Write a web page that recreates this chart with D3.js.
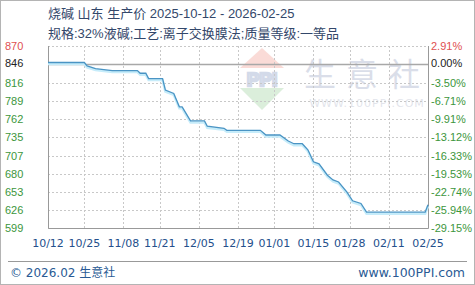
<!DOCTYPE html>
<html>
<head>
<meta charset="utf-8">
<script src="https://cdn.jsdelivr.net/npm/d3@7"></script>
<style>
  body { margin: 0; background: #fff; }
  svg { display: block; }
  text { font-family: "DejaVu Sans", "Noto Sans CJK SC", sans-serif; }
</style>
</head>
<body>
<div id="chart"></div>
<script>
// chart data
let titleText = "烧碱 山东 生产价 2025-10-12 - 2026-02-25";
let specText = "规格:32%液碱;工艺:离子交换膜法;质量等级:一等品";
let baseValue = 846;
let leftLabels = [599, 626, 653, 680, 707, 735, 762, 789, 816, 846, 870];
let rightLabels = ["-29.15%", "-25.94%", "-22.74%", "-19.53%", "-16.33%", "-13.12%", "-9.91%", "-6.71%", "-3.50%", "0.00%", "2.91%"];
let xTickDates = ["2025-10-12", "2025-10-25", "2025-11-08", "2025-11-21", "2025-12-05", "2025-12-19",
                  "2026-01-01", "2026-01-15", "2026-01-28", "2026-02-11", "2026-02-25"];
let priceDates = ["2025-10-12", "2025-10-25", "2025-10-26", "2025-10-29", "2025-11-04", "2025-11-13",
                  "2025-11-14", "2025-11-16", "2025-11-17", "2025-11-22", "2025-11-23", "2025-11-26",
                  "2025-11-28", "2025-11-29", "2025-12-02", "2025-12-07", "2025-12-08", "2025-12-14",
                  "2025-12-15", "2025-12-27", "2025-12-29", "2026-01-03", "2026-01-06", "2026-01-08",
                  "2026-01-11", "2026-01-13", "2026-01-15", "2026-01-17", "2026-01-20", "2026-01-22",
                  "2026-01-24", "2026-01-27", "2026-01-29", "2026-02-01", "2026-02-03", "2026-02-24",
                  "2026-02-25"];
let priceValues = [846, 846, 841, 837, 834, 834,
                   830, 830, 822, 822, 805, 800,
                   780, 780, 759, 759, 751, 748,
                   745, 745, 738, 738, 729, 725,
                   725, 716, 698, 695, 678, 671,
                   668, 653, 640, 636, 623, 623,
                   634];

let width = 475;
let height = 285;
let plot = {left: 48, right: 428, top: 46, bottom: 228};
let numFont = "'Liberation Sans', 'Noto Sans CJK SC', sans-serif";

let parse = d3.timeParse("%Y-%m-%d");
let fmt = d3.timeFormat("%m/%d");

let svg = d3.select("#chart").append("svg")
            .attr("width", width)
            .attr("height", height);

// outer frame
svg.append("rect")
   .attr("x", 0.5).attr("y", 0.5)
   .attr("width", width - 1).attr("height", height - 1)
   .attr("fill", "#fff").attr("stroke", "#b4b4b4");

let x = d3.scaleTime()
          .domain([parse(xTickDates[0]), parse(xTickDates[xTickDates.length - 1])])
          .range([plot.left, plot.right]);
let y = d3.scaleLinear()
          .domain([baseValue * (1 - 0.2915), baseValue * 1.0291])
          .range([plot.bottom, plot.top]);

// watermark
let wm = svg.append("g").attr("opacity", 0.3);
wm.append("path")
  .attr("d", "M240,68 L262,48 L284,68 Z")
  .attr("fill", "#f08c7c");
wm.append("path")
  .attr("d", "M240,88 L284,88 L262,110 Z")
  .attr("fill", "#8cc98c");
wm.append("text")
  .attr("x", 262).attr("y", 86)
  .attr("text-anchor", "middle")
  .attr("font-size", 19)
  .attr("fill", "none")
  .attr("stroke", "#6f86b8")
  .attr("stroke-width", 2.5)
  .style("font-family", numFont)
  .attr("font-weight", "bold")
  .text("PPI");
wm.append("text")
  .attr("x", 367).attr("y", 86)
  .attr("text-anchor", "middle")
  .attr("font-size", 32)
  .attr("letter-spacing", 10)
  .attr("fill", "#8894b8")
  .style("font-family", "'Noto Sans CJK SC'")
  .text("生意社");
wm.append("text")
  .attr("x", 367).attr("y", 107)
  .attr("text-anchor", "middle")
  .attr("font-size", 11)
  .attr("letter-spacing", 1)
  .attr("fill", "#a0a8c0")
  .text("WWW.100PPI.COM");

// horizontal grid
svg.append("g")
   .selectAll("line")
   .data(leftLabels.filter(d => d != baseValue))
   .join("line")
   .attr("x1", plot.left).attr("x2", plot.right)
   .attr("y1", d => Math.round(y(d)) + 0.5)
   .attr("y2", d => Math.round(y(d)) + 0.5)
   .attr("stroke", "#c8c8c8")
   .attr("stroke-dasharray", "2,2");

// vertical grid
svg.append("g")
   .selectAll("line")
   .data(xTickDates.slice(1, -1))
   .join("line")
   .attr("x1", d => Math.round(x(parse(d))) + 0.5)
   .attr("x2", d => Math.round(x(parse(d))) + 0.5)
   .attr("y1", plot.top).attr("y2", plot.bottom)
   .attr("stroke", "#c8c8c8")
   .attr("stroke-dasharray", "2,2");

// base line
svg.append("line")
   .attr("x1", plot.left).attr("x2", plot.right)
   .attr("y1", Math.round(y(baseValue)) + 1.5)
   .attr("y2", Math.round(y(baseValue)) + 1.5)
   .attr("stroke", "#a8a8a8")
   .attr("stroke-width", 1.5);

// plot frame: left, bottom, right
svg.append("path")
   .attr("d", "M" + (plot.left + 0.5) + "," + plot.top +
              "V" + (plot.bottom + 0.5) +
              "H" + (plot.right + 0.5) +
              "V" + plot.top)
   .attr("fill", "none")
   .attr("stroke", "#999");

// price line with its light shadow
let points = priceDates.map((d, i) => ({date: parse(d), value: priceValues[i]}));
let line = d3.line()
             .x(d => x(d.date))
             .y(d => y(d.value));

svg.append("path")
   .datum(points)
   .attr("d", line)
   .attr("transform", "translate(0,1.5)")
   .attr("fill", "none")
   .attr("stroke", "#c6ecfa")
   .attr("stroke-width", 2.5);
svg.append("path")
   .datum(points)
   .attr("d", line)
   .attr("fill", "none")
   .attr("stroke", "#4a94c4")
   .attr("stroke-width", 1.3);

// left and right y labels
let labelColour = function(i) {
    if (i == leftLabels.length - 1) return "#e05050";
    if (leftLabels[i] == baseValue) return "#222";
    return "#3c963c";
};
svg.append("g")
   .selectAll("text")
   .data(leftLabels)
   .join("text")
   .attr("x", 5)
   .attr("y", d => y(d) + 4)
   .attr("font-size", 11)
   .style("font-family", numFont)
   .attr("fill", (d, i) => labelColour(i))
   .text(d => d);
svg.append("g")
   .selectAll("text")
   .data(rightLabels)
   .join("text")
   .attr("x", 431)
   .attr("y", (d, i) => y(leftLabels[i]) + 4)
   .attr("font-size", 11)
   .style("font-family", numFont)
   .attr("fill", (d, i) => labelColour(i))
   .text(d => d);

// x labels
svg.append("g")
   .selectAll("text")
   .data(xTickDates)
   .join("text")
   .attr("x", d => x(parse(d)))
   .attr("y", 247)
   .attr("text-anchor", "middle")
   .attr("font-size", 11)
   .attr("fill", "#24508c")
   .text(d => fmt(parse(d)));

// titles
svg.append("text")
   .attr("x", 48).attr("y", 18)
   .attr("font-size", 13)
   .style("font-family", numFont)
   .attr("fill", "#33476a")
   .text(titleText);
svg.append("text")
   .attr("x", 48).attr("y", 38)
   .attr("font-size", 13)
   .style("font-family", numFont)
   .attr("fill", "#33476a")
   .text(specText);

// footer
svg.append("line")
   .attr("x1", 8).attr("x2", 467)
   .attr("y1", 261.5).attr("y2", 261.5)
   .attr("stroke", "#999");
svg.append("text")
   .attr("x", 10).attr("y", 277)
   .attr("font-size", 12)
   .attr("fill", "#2a5a94")
   .text("© 2026.02 生意社");
svg.append("text")
   .attr("x", 465).attr("y", 277)
   .attr("text-anchor", "end")
   .attr("font-size", 12.5)
   .attr("fill", "#2a5a94")
   .text("www.100PPI.com");
</script>
</body>
</html>
